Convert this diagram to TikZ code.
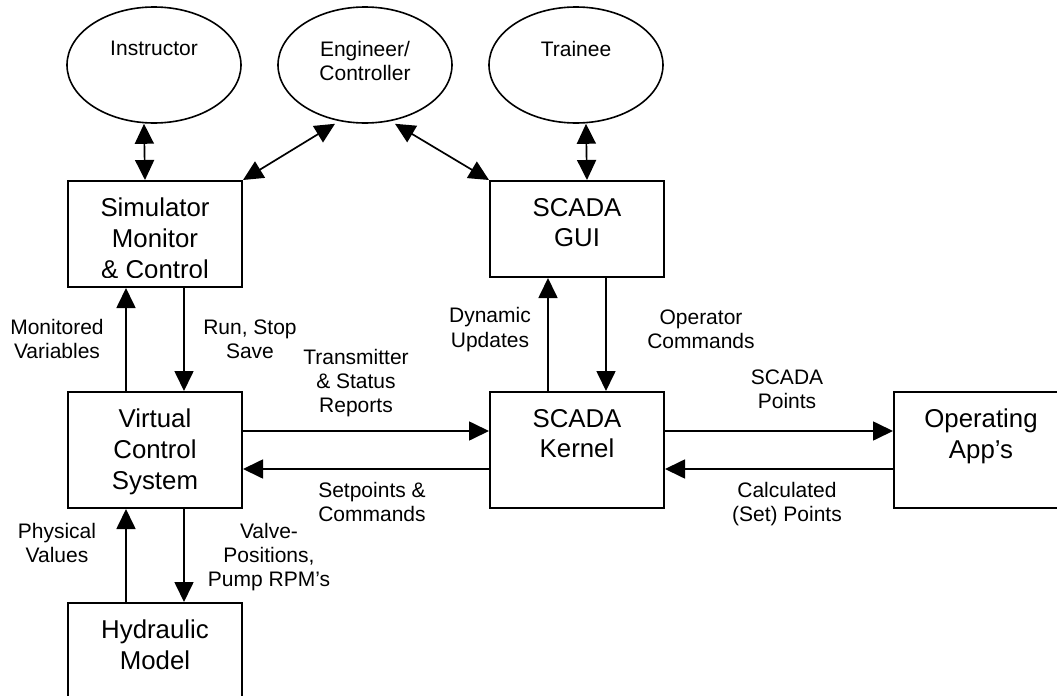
\documentclass[tikz,border=0pt]{standalone}
\usepackage{fontspec}
\setmainfont{Liberation Sans}
\usetikzlibrary{arrows.meta,positioning,calc,shapes.geometric}

\begin{document}
\begin{tikzpicture}[x=0.5pt, y=-0.5pt, >={Triangle[length=10pt, width=9.5pt]},
    bloque/.style={draw, line width=1pt, minimum width=87pt, inner sep=0pt, anchor=north west},
    textobloque/.style={anchor=north, inner sep=0pt, align=center, font=\fontsize{12.9}{15.3}\selectfont},
    actor/.style={draw, ellipse, line width=0.8pt, minimum width=87pt, minimum height=58pt, inner sep=0pt},
    textoactor/.style={anchor=north, inner sep=0pt, align=center, font=\fontsize{10.5}{12}\selectfont},
    etiqueta/.style={align=center, inner sep=0pt, font=\fontsize{10.5}{12.2}\selectfont},
    flecha/.style={->, line width=0.85pt}]

\useasboundingbox (0,0) rectangle (1057,696);

%%% ---------- ACTORES ----------
\node[actor] (instructor) at (154,65) {};
\node[actor] (engineer)   at (365,65) {};
\node[actor] (trainee)    at (576,65) {};

\node[textoactor] (instructorTxt) at ([yshift=-17.2pt]instructor.north) {Instructor};
\node[textoactor] (engineerTxt)   at ([yshift=-17.2pt]engineer.north) {Engineer/\\Controller};
\node[textoactor] (traineeTxt)    at ([yshift=-17.2pt]trainee.north) {Trainee};

%%% ---------- BLOQUES ----------
\node[bloque, minimum height=53pt] (sim)    at (67,180)  {};
\node[bloque, minimum height=48pt] (gui)    at (489,180) {};
\node[bloque, minimum height=58pt] (vcs)    at (67,391)  {};
\node[bloque, minimum height=58pt] (kernel) at (489,391) {};
\node[bloque, minimum height=58pt] (apps)   at (893,391) {};
\node[bloque, minimum height=60pt] (hydro)  at (67,602)  {};

% Texto de los bloques (el de sim queda cortado por abajo)
\begin{scope}
    \clip (sim.north west) rectangle ([yshift=5.5pt]sim.south east);
    \node[textobloque] (simTxt) at ([yshift=-8.9pt]sim.north) {Simulator\\Monitor\\\& Control};
\end{scope}
\node[textobloque] (guiTxt)    at ([yshift=-8.9pt]gui.north)    {SCADA\\GUI};
\node[textobloque] (vcsTxt)    at ([yshift=-8.9pt]vcs.north)    {Virtual\\Control\\System};
\node[textobloque] (kernelTxt) at ([yshift=-8.9pt]kernel.north) {SCADA\\Kernel};
\node[textobloque] (appsTxt)   at ([yshift=-8.9pt]apps.north)   {Operating\\App's};
\node[textobloque] (hydroTxt)  at ([yshift=-8.9pt]hydro.north)  {Hydraulic\\Model};

%%% ---------- FLECHAS ----------
% Actores <-> bloques
\draw[flecha, <->] ([xshift=-5pt]instructor.south) -- ([xshift=-5pt]sim.north);
\draw[flecha, <->] ([xshift=5pt]trainee.south) -- ([xshift=5pt]gui.north);
\draw[flecha, <->] (sim.north east) -- ([xshift=-15pt]engineer.south);
\draw[flecha, <->] (gui.north west) -- ([xshift=15pt]engineer.south);

% Verticales: subida a la izquierda, bajada a la derecha
\foreach \arriba/\abajo in {sim/vcs, vcs/hydro, gui/kernel} {
    \draw[flecha] ([xshift=-14.5pt]\abajo.north) -- ([xshift=-14.5pt]\arriba.south);
    \draw[flecha] ([xshift=14.5pt]\arriba.south) -- ([xshift=14.5pt]\abajo.north);
}

% Horizontales: ida arriba, vuelta abajo
\foreach \izq/\der in {vcs/kernel, kernel/apps} {
    \draw[flecha] ([yshift=9.5pt]\izq.east) -- ([yshift=9.5pt]\der.west);
    \draw[flecha] ([yshift=-9.5pt]\der.west) -- ([yshift=-9.5pt]\izq.east);
}

%%% ---------- ETIQUETAS ----------
\node[etiqueta] (lblMonitored) at (57,339)    {Monitored\\Variables};
\node[etiqueta] (lblRun)       at (250,339.5) {Run, Stop\\Save};
\node[etiqueta] (lblPhysical)  at (57,543)    {Physical\\Values};
\node[etiqueta] (lblValve)     at (269,557)   {Valve-\\Positions,\\Pump RPM's};
\node[etiqueta] (lblTransm)    at (356,383)   {Transmitter\\\& Status\\Reports};
\node[etiqueta] (lblSetp)      at (372,502)   {Setpoints \&\\Commands};
\node[etiqueta] (lblDynamic)   at (490,329.5) {Dynamic\\Updates};
\node[etiqueta] (lblOperator)  at (701,329.5) {Operator\\Commands};
\node[etiqueta] (lblPoints)    at (787,389.5) {SCADA\\Points};
\node[etiqueta] (lblCalc)      at (787,504)   {Calculated\\(Set) Points};

\end{tikzpicture}
\end{document}
